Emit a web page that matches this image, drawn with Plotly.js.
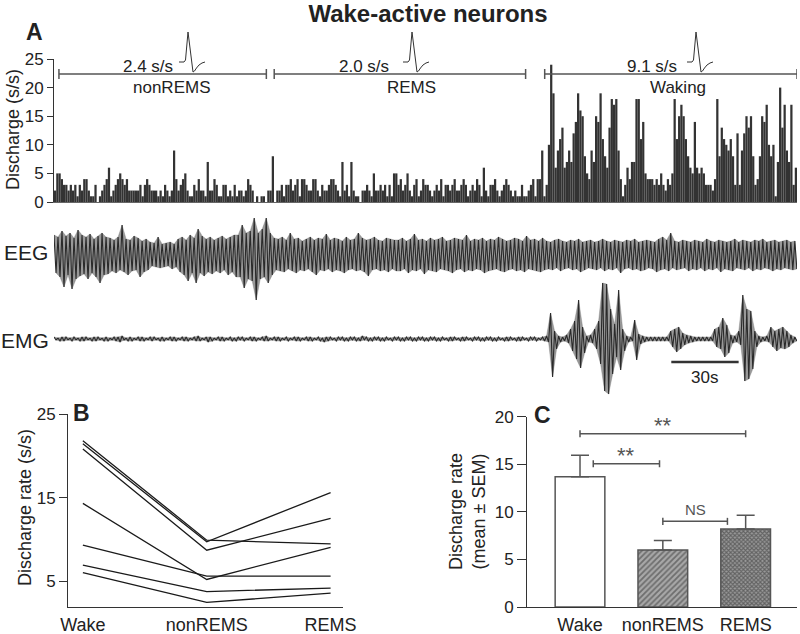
<!DOCTYPE html>
<html><head><meta charset="utf-8">
<script src="https://cdn.plot.ly/plotly-3.0.1.min.js"></script>
<style>body{margin:0;background:#fff}#chart{width:800px;height:634px}</style>
</head><body><div id="chart"></div>
<script>
// ---------------- DATA ----------------
// Panel A: discharge histogram, 1-s bins (s/s)
const rateSleep = [2,5,5,4,3,3,2,3,2,3,1,3,2,4,4,2,1,1,3,0,1,2,3,4,6,
 1,2,3,4,5,4,3,4,2,2,2,2,2,3,1,3,4,3,2,2,2,1,2,1,3,2,1,2,
 9,
 4,2,3,4,5,2,1,1,3,2,4,2,2,1,
 7,
 2,2,4,3,1,1,3,3,1,2,1,3,1,2,2,1,2,4,3,2,0,1,0,1,1,0,2,2,
 8,
 0,2,2,3,1,3,3,4,2,3,4,1,4,4,3,2,2,4,4,2,1,3,2,2,3,4,4,3,2,1,
 7,
 2,3,1,
 7,
 2,1,1,0,2,2,3,2,1,5,2,2,3,2,3,1,3,1,5,5,3,4,2,3,5,2,1,3,4,1,2,4,3,3,2,1,2,3,2,4,1,3,3,2,3,4,2,2,3,4,3,1,2,3,2,4,3,1,
 6,
 2,1,3,3,4,2,1,2,3,4,3,2,1,2,1,1,3,1,1,2,3,4,1,4,4,9,1,3];
const rateWaking = [10,24,19,6,9,11,13,6,7,9,7,12,14,19,16,15,8,5,4,9,7,15,14,19,11,8,6,13,18,17,
 18,9,4,1,3,6,4,7,7,18,18,11,14,5,4,4,4,3,4,3,5,3,2,4,3,5,18,11,15,17,15,11,8,6,5,14,6,5,6,5,
 3,3,3,2,4,18,8,13,11,10,9,11,8,3,12,3,9,12,15,13,15,8,3,4,8,15,14,17,10,8,10,1,7,20,13,17,9,7,17,3,6];
const stateNames = ['nonREMS','REMS','Waking'];
const stateRates = ['2.4 s/s','2.0 s/s','9.1 s/s'];
const stateStart = [2.2, 98.1, 218.6];   // s
const stateEnd   = [94.6, 210.1, 331];   // s

// EEG / EMG envelopes (arbitrary units), one sample every traceStepSec
const traceStepSec = 1.784;
const eegHi = [20,18,24,19,22,17,25,20,18,21,16,19,22,18,
 17,15,18,30,16,15,19,17,14,16,
 13,12,18,11,12,13,11,
 16,18,15,20,17,26,19,16,18,15,17,19,16,18,20,
 20,30,22,24,37,22,26,37,22,
 17,16,18,15,22,16,17,14,16,18,15,17,16,21,15,17,16,14,18,15,16,22,17,15,16,18,15,14,17,16,15,
 15,17,14,16,21,15,16,14,17,15,16,18,14,15,17,16,15,20,14,16,15,17,14,16,15,18,16,14,15,17,16,14,19,15,16,14,17,
 14,13,15,16,14,13,15,14,16,13,14,15,13,14,16,14,13,15,14,13,15,14,16,13,14,15,14,13,16,18,15,22,14,13,15,14,13,15,14,13,16,14,13,15,14,13,14,16,13,15,14,13,15,14,16,13,14,15,13,14,15,13,14];
const eegLo = [-18,-22,-32,-20,-34,-24,-21,-19,-24,-18,-22,-28,-20,-19,
 -16,-18,-15,-17,-20,-16,-15,-22,-17,-15,
 -11,-12,-13,-12,-11,-14,-12,
 -17,-20,-26,-18,-28,-18,-21,-17,-19,-16,-18,-15,-20,-17,-22,
 -22,-33,-24,-26,-45,-24,-22,-28,-20,
 -15,-16,-17,-14,-16,-18,-15,-16,-14,-17,-20,-15,-16,-14,-17,-15,-16,-18,-15,-14,-16,-15,-17,-21,-15,-14,-16,-15,-17,-14,-16,
 -16,-14,-18,-15,-16,-14,-19,-15,-16,-17,-14,-15,-16,-18,-15,-14,-17,-15,-16,-14,-15,-18,-16,-15,-14,-16,-17,-15,-14,-16,-15,-17,-14,-15,-16,-17,-15,
 -14,-15,-13,-16,-14,-13,-15,-14,-17,-15,-13,-14,-15,-13,-16,-14,-15,-13,-18,-14,-13,-15,-14,-16,-15,-13,-14,-17,-15,-14,-16,-13,-15,-14,-13,-16,-14,-15,-13,-16,-14,-15,-13,-17,-14,-15,-16,-13,-14,-15,-13,-16,-14,-15,-13,-14,-16,-14,-15,-13,-14,-15,-14];
const emgHi = [2,1,2,2,1,2,1,2,2,1, 2,2,1,2,1,2,2,3,1,2, 1,2,2,1,2,2,1,2,1,2, 2,1,2,2,1,2,3,1,2,2,
 1,2,2,1,2,1,2,2,1,2, 2,1,2,3,1,2,2,1,2,1, 2,2,1,2,2,1,2,1,2,2, 1,2,2,1,2,2,1,3,2,1,
 2,2,1,2,1,2,2,1,2,2, 1,2,2,1,2,2,1,2,1,2, 2,1,2,2,1,2,2,1,2,2, 1,2,1,2,2,1,2,2,1,2, 2,1,2,
 3,26,8,3,2,4,10,18,39,12, 3,4,10,18,56,55,30,15,49,10, 3,2,19,5,3,2,2,2,2,2,
 2,8,10,12,6,4,3,2,2,2, 2,2,10,12,21,14,4,3,8,44, 30,28,8,3,2,3,12,8,10,12, 8,4,2];
const emgLo = [-1,-2,-2,-1,-2,-1,-2,-2,-1,-2, -2,-1,-2,-2,-1,-2,-3,-1,-2,-2, -1,-2,-2,-1,-2,-1,-2,-2,-1,-2,
 -2,-1,-2,-2,-1,-2,-2,-1,-3,-2, -1,-2,-2,-1,-2,-2,-1,-2,-1,-2, -2,-1,-2,-2,-1,-2,-2,-1,-2,-1,
 -2,-2,-1,-2,-2,-1,-2,-3,-2,-1, -2,-1,-2,-2,-1,-2,-2,-1,-2,-2, -1,-2,-2,-1,-2,-1,-2,-2,-1,-2,
 -2,-1,-2,-2,-1,-2,-2,-1,-2,-2, -1,-2,-2,-1,-2,-1,-2,-2,-1,-2, -2,-1,-2,-2,-1,-2,-2,-1,-2,-1, -2,-1,-2,
 -3,-38,-10,-3,-2,-4,-12,-20,-29,-14, -3,-4,-10,-25,-52,-55,-35,-18,-31,-12, -3,-2,-21,-5,-3,-2,-2,-2,-2,-2,
 -2,-8,-13,-10,-6,-4,-3,-2,-2,-2, -2,-2,-8,-10,-18,-14,-4,-3,-6,-42, -40,-30,-8,-3,-2,-3,-8,-12,-9,-10, -8,-4,-2];
const scaleBarSec = 30;

// average spike waveform (icon)
const spikeT = [0,5,6.5,9,14,15.5,17.5,20,23,26];
const spikeV = [0,0,2,30,-10,-9,-6,-3,-1,0];

// Panel B: individual neurons
const stages = ['Wake','nonREMS','REMS'];
const neuron1 = [21.8, 9.9, 9.45];
const neuron2 = [21.45, 9.7, 15.6];
const neuron3 = [20.8, 8.7, 12.5];
const neuron4 = [14.3, 5.2, 9.05];
const neuron5 = [9.3, 5.6, 5.6];
const neuron6 = [6.9, 3.75, 4.15];
const neuron7 = [6.0, 2.45, 3.55];

// Panel C: mean ± SEM
const meanRate = [13.7, 6.0, 8.2];
const semRate  = [2.25, 1.0, 1.45];
const sigX0 = [0, 0.16, 1.0];
const sigX1 = [2, 0.96, 1.78];
const sigY  = [18.2, 15.05, 9.0];
const sigLabel = ['**','**','NS'];

// ---------------- LAYOUT HELPERS ----------------
const W = 800, H = 634;
const X = p => p / W, Y = p => 1 - p / H;
const FONT = 'Liberation Sans, Arial, sans-serif';
const TXT = '#222';

const traces = [];
// histogram
const rates = rateSleep.concat(rateWaking);
traces.push({type:'bar', x: rates.map((_, i) => i + 0.5), y: rates, width: 1,
  marker:{color:'#333', line:{width:0}}, xaxis:'x', yaxis:'y'});

// envelope polygon (upper edge forward, lower edge back) + zig-zag trace on top
function band(hi, lo) {
  const n = Math.min(hi.length, lo.length);
  const xs = [], ys = [];
  for (let i = 0; i < n; i++) { xs.push(i * traceStepSec); ys.push(hi[i]); }
  for (let i = n - 1; i >= 0; i--) { xs.push((i + 0.5) * traceStepSec); ys.push(lo[i]); }
  return {xs, ys};
}
function zig(hi, lo) {
  const n = Math.min(hi.length, lo.length);
  const xs = [], ys = [];
  for (let i = 0; i < n; i++) {
    xs.push(i * traceStepSec); ys.push(hi[i]);
    xs.push((i + 0.5) * traceStepSec); ys.push(lo[i]);
  }
  return {xs, ys};
}
[[eegHi, eegLo, 'y2'], [emgHi, emgLo, 'y3']].forEach(([hi, lo, ya]) => {
  const b = band(hi, lo), z = zig(hi, lo);
  traces.push({type:'scatter', mode:'lines', x: b.xs, y: b.ys, fill:'toself', fillcolor:'rgba(70,70,70,0.55)',
    line:{color:'rgba(120,120,120,0.6)', width:0.6}, xaxis:'x', yaxis: ya});
  traces.push({type:'scatter', mode:'lines', x: z.xs, y: z.ys, line:{color:'#2a2a2a', width:1.1}, xaxis:'x', yaxis: ya});
});

// spike icons
[4,5,6].forEach(k => traces.push({type:'scatter', mode:'lines', x: spikeT, y: spikeV,
  line:{color:'#333', width:1}, xaxis:'x'+k, yaxis:'y'+k}));

// panel B
[neuron1, neuron2, neuron3, neuron4, neuron5, neuron6, neuron7].forEach(n =>
  traces.push({type:'scatter', mode:'lines', x:[0,1,2], y:n, line:{color:'#1a1a1a', width:1.3}, xaxis:'x7', yaxis:'y7'}));

// panel C: one bar trace per state (overlay, so no group offset)
const barPatterns = [
  {shape:'', bg:'#ffffff', fg:'#ffffff', size:6, solidity:0.2},
  {shape:'/', bg:'#a8a8a8', fg:'#333333', size:4, solidity:0.45},
  {shape:'x', bg:'#9a9a9a', fg:'#2a2a2a', size:3, solidity:0.6}
];
stages.forEach((s, k) => {
  const p = barPatterns[k];
  traces.push({type:'bar', x:[k], y:[meanRate[k]], width:0.6, xaxis:'x8', yaxis:'y8',
    marker:{color: p.bg, line:{color:'#555', width:1.5},
      pattern: p.shape ? {shape: p.shape, fgcolor: p.fg, bgcolor: p.bg, size: p.size, solidity: p.solidity, fillmode:'overlay'} : undefined},
    error_y:{type:'data', symmetric:false, array:[semRate[k]], arrayminus:[0], color:'#555', thickness:1.5, width:9}});
});

const hidden = {visible:false, fixedrange:true};
const layout = {
  width: W, height: H, margin:{l:0,r:0,t:0,b:0}, showlegend:false, barmode:'overlay',
  paper_bgcolor:'#fff', plot_bgcolor:'rgba(0,0,0,0)',
  font:{family: FONT, color: TXT, size:17},
  title:{text:'<b>Wake-active neurons</b>', x: X(428), y: Y(14), xanchor:'center', yanchor:'middle', font:{size:24, family:FONT, color:'#222'}},
  xaxis:{domain:[X(54), X(797)], range:[0, rates.length], anchor:'y', showline:true, linecolor:'#666', linewidth:1,
    showticklabels:false, ticks:'', showgrid:false, zeroline:false},
  yaxis:{domain:[Y(202), Y(59)], range:[0,25], anchor:'x', tickvals:[0,5,10,15,20,25], ticks:'outside', ticklen:6,
    tickcolor:'#333', showline:true, linecolor:'#333', linewidth:1, showgrid:false, zeroline:false, tickfont:{size:17}},
  yaxis2:Object.assign({domain:[Y(305), Y(205)], range:[-50,50], anchor:'x'}, hidden),
  yaxis3:Object.assign({domain:[Y(398), Y(280)], range:[-59,59], anchor:'x'}, hidden),
  xaxis4:Object.assign({domain:[X(179), X(205)], range:[0,26], anchor:'y4'}, hidden),
  yaxis4:Object.assign({domain:[Y(74), Y(30)], range:[-12,32], anchor:'x4'}, hidden),
  xaxis5:Object.assign({domain:[X(403), X(429)], range:[0,26], anchor:'y5'}, hidden),
  yaxis5:Object.assign({domain:[Y(74), Y(30)], range:[-12,32], anchor:'x5'}, hidden),
  xaxis6:Object.assign({domain:[X(687), X(713)], range:[0,26], anchor:'y6'}, hidden),
  yaxis6:Object.assign({domain:[Y(74), Y(30)], range:[-12,32], anchor:'x6'}, hidden),
  xaxis7:{domain:[X(68), X(343)], range:[-0.12, 2.1], anchor:'y7', tickvals:[0,1,2], ticktext: stages, ticks:'',
    showline:true, linecolor:'#333', linewidth:1, showgrid:false, zeroline:false, tickfont:{size:18}, ticklabelstandoff:1},
  yaxis7:{domain:[Y(607), Y(414)], range:[1.9, 25], anchor:'x7', tickvals:[5,15,25], ticks:'outside', ticklen:8,
    tickcolor:'#333', showline:true, linecolor:'#333', linewidth:1, showgrid:false, zeroline:false, tickfont:{size:17}},
  xaxis8:{domain:[X(527), X(797)], range:[-0.64, 2.62], anchor:'y8', tickvals:[0,1,2], ticktext: stages, ticks:'',
    showline:true, linecolor:'#333', linewidth:1, showgrid:false, zeroline:false, tickfont:{size:18}, ticklabelstandoff:1},
  yaxis8:{domain:[Y(607), Y(416.7)], range:[0,20], anchor:'x8', tickvals:[0,5,10,15,20], ticks:'outside', ticklen:9,
    tickcolor:'#333', showline:true, linecolor:'#333', linewidth:1, showgrid:false, zeroline:false, tickfont:{size:17}},
  shapes:[], annotations:[]
};

const ann = (text, xp, yp, size, extra) => layout.annotations.push(Object.assign({
  text, x: X(xp), y: Y(yp), xref:'paper', yref:'paper', showarrow:false, xanchor:'center', yanchor:'middle',
  font:{size, family:FONT, color:TXT}}, extra || {}));

// state brackets
const rateLabelX = [148, 364, 652], stateLabelX = [171, 411, 678];
stateNames.forEach((s, k) => {
  const ln = {type:'line', xref:'x', yref:'paper', line:{color:'#555', width:1.5}};
  layout.shapes.push(Object.assign({}, ln, {x0: stateStart[k], x1: stateEnd[k], y0: Y(74), y1: Y(74)}));
  layout.shapes.push(Object.assign({}, ln, {x0: stateStart[k], x1: stateStart[k], y0: Y(69), y1: Y(79)}));
  layout.shapes.push(Object.assign({}, ln, {x0: stateEnd[k], x1: stateEnd[k], y0: Y(69), y1: Y(79)}));
  ann(stateRates[k], rateLabelX[k], 66, 17);
  ann(s, stateLabelX[k], 87, 17);
});

// scale bar
const scaleBarStart = 275;
layout.shapes.push({type:'line', xref:'x', yref:'y3', x0: scaleBarStart, x1: scaleBarStart + scaleBarSec, y0:-23, y1:-23, line:{color:'#333', width:2.5}});
layout.annotations.push({text: scaleBarSec + 's', x: scaleBarStart + scaleBarSec/2, y: Y(377), xref:'x', yref:'paper', showarrow:false,
  xanchor:'center', yanchor:'middle', font:{size:17, family:FONT, color:TXT}});

// significance brackets (C)
sigLabel.forEach((lab, k) => {
  const ln = {type:'line', xref:'x8', yref:'y8', line:{color:'#555', width:1.5}};
  layout.shapes.push(Object.assign({}, ln, {x0: sigX0[k], x1: sigX1[k], y0: sigY[k], y1: sigY[k]}));
  layout.shapes.push(Object.assign({}, ln, {x0: sigX0[k], x1: sigX0[k], y0: sigY[k]-0.37, y1: sigY[k]+0.37}));
  layout.shapes.push(Object.assign({}, ln, {x0: sigX1[k], x1: sigX1[k], y0: sigY[k]-0.37, y1: sigY[k]+0.37}));
  const isNS = lab === 'NS';
  layout.annotations.push({text: lab, x:(sigX0[k]+sigX1[k])/2, y: sigY[k], xref:'x8', yref:'y8', showarrow:false,
    xanchor:'center', yanchor:'bottom', yshift: isNS ? 1 : -6, font:{size: isNS ? 15 : 22, family:FONT, color:'#555'}});
});

// panel letters and labels
ann('<b>A</b>', 34, 32, 23);
ann('<b>B</b>', 81, 413, 23);
ann('<b>C</b>', 542, 415, 23);
ann('EEG', 25.5, 253, 21);
ann('EMG', 25, 340, 21);
ann('Discharge (s/s)', 13, 130, 18, {textangle:-90});
ann('Discharge rate (s/s)', 25, 508, 18, {textangle:-90});
ann('Discharge rate<br>(mean ± SEM)', 467, 512, 18, {textangle:-90});

Plotly.newPlot('chart', traces, layout, {staticPlot:true, displayModeBar:false});
</script></body></html>
